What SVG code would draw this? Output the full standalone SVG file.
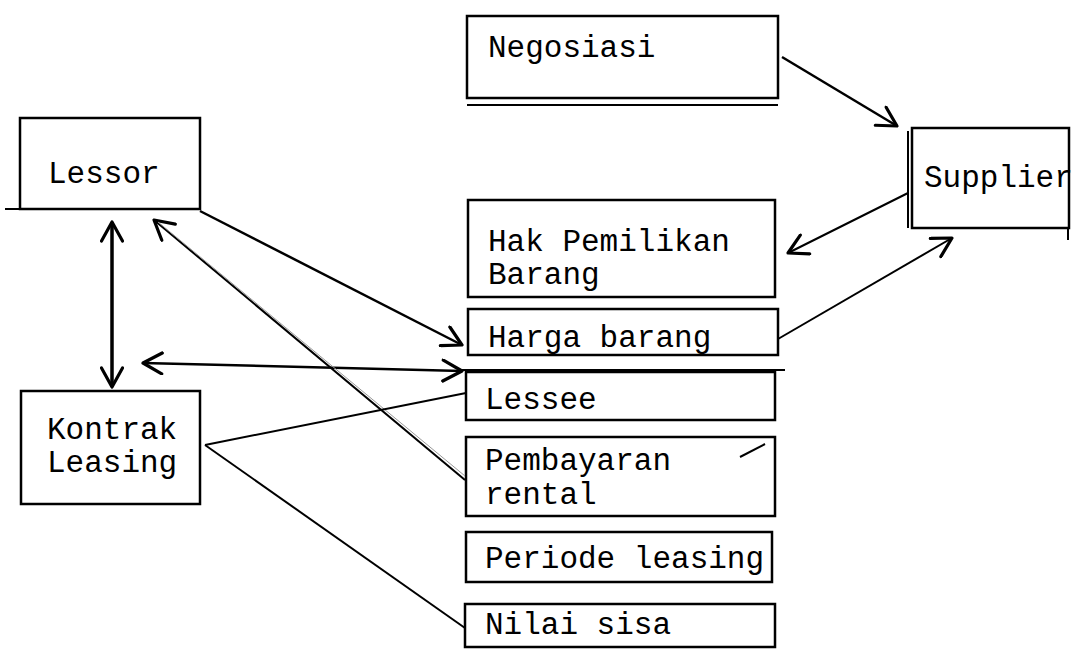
<svg xmlns="http://www.w3.org/2000/svg" width="1076" height="652" viewBox="0 0 1076 652">
  <defs>
    <style>
      .box rect { fill: none; stroke: #000; stroke-width: 2.5; }
      .box line { stroke: #000; stroke-width: 2; }
      text { font-family: "Liberation Mono", "Courier New", monospace; font-size: 31px; fill: #000; }
      .edge { fill: none; stroke: #000; stroke-width: 2.5; }
      .thin { stroke-width: 2; }
      .heavy { stroke-width: 3.5; }
    </style>
    <!-- open chevron arrowhead -->
    <marker id="arrow" viewBox="0 0 24 24" refX="22" refY="12" markerUnits="userSpaceOnUse" markerWidth="24" markerHeight="24" orient="auto-start-reverse">
      <path d="M3,1.5 L22,12 L3,22.5" fill="none" stroke="#000" stroke-width="3.2" stroke-linecap="round" stroke-linejoin="round"/>
    </marker>
  </defs>

  <rect width="1076" height="652" fill="#fff"/>

  <!-- nodes -->
  <g id="negosiasi" class="box">
    <rect x="467" y="16" width="311" height="82"/>
    <line x1="467" y1="105" x2="778" y2="105"/>
    <text x="488" y="57">Negosiasi</text>
  </g>

  <g id="supplier" class="box">
    <rect x="912" y="128" width="157" height="100"/>
    <line x1="908" y1="131" x2="908" y2="228"/>
    <line x1="1068" y1="228" x2="1068" y2="240"/>
    <text x="924" y="187">Supplier</text>
  </g>

  <g id="lessor" class="box">
    <rect x="20" y="118" width="180" height="91"/>
    <line x1="5" y1="209" x2="20" y2="209"/>
    <text x="48" y="183">Lessor</text>
  </g>

  <g id="kontrak-leasing" class="box">
    <rect x="21" y="391" width="179" height="113"/>
    <text x="47" y="439">Kontrak</text>
    <text x="47" y="472">Leasing</text>
  </g>

  <g id="hak-pemilikan" class="box">
    <rect x="468" y="200" width="307" height="97"/>
    <text x="488" y="251">Hak Pemilikan</text>
    <text x="488" y="284">Barang</text>
  </g>

  <g id="harga-barang" class="box">
    <rect x="468" y="309" width="310" height="46"/>
    <text x="488" y="347">Harga barang</text>
  </g>

  <g id="lessee" class="box">
    <rect x="466" y="372" width="309" height="48"/>
    <line x1="462" y1="370" x2="785" y2="370"/>
    <text x="485" y="409">Lessee</text>
  </g>

  <g id="pembayaran-rental" class="box">
    <rect x="466" y="437" width="309" height="79"/>
    <text x="485" y="470">Pembayaran</text>
    <text x="485" y="504">rental</text>
  </g>

  <g id="periode-leasing" class="box">
    <rect x="466" y="532" width="306" height="50"/>
    <text x="485" y="568">Periode leasing</text>
  </g>

  <g id="nilai-sisa" class="box">
    <rect x="465" y="604" width="310" height="43"/>
    <text x="485" y="634">Nilai sisa</text>
  </g>

  <!-- connectors -->
  <g id="connectors">
    <line class="edge" x1="782" y1="57" x2="897" y2="126" marker-end="url(#arrow)"/>
    <line class="edge thin" x1="908" y1="193" x2="788" y2="253" marker-end="url(#arrow)"/>
    <line class="edge thin" x1="778" y1="339" x2="952" y2="238" marker-end="url(#arrow)"/>
    <line class="edge" x1="200" y1="211" x2="462" y2="345" marker-end="url(#arrow)"/>
    <line class="edge heavy" x1="112" y1="222" x2="112" y2="387" marker-start="url(#arrow)" marker-end="url(#arrow)"/>
    <line class="edge" x1="143" y1="363" x2="462" y2="371" marker-start="url(#arrow)" marker-end="url(#arrow)"/>
    <line class="edge thin" x1="465" y1="480" x2="154" y2="220" marker-end="url(#arrow)"/>
    <line stroke="#999" stroke-width="1" x1="465" y1="476" x2="158" y2="222"/>
    <line class="edge thin" x1="205" y1="445" x2="466" y2="393"/>
    <line class="edge thin" x1="205" y1="445" x2="465" y2="628"/>
    <line class="edge thin" x1="740" y1="457" x2="765" y2="444"/>
  </g>
</svg>
